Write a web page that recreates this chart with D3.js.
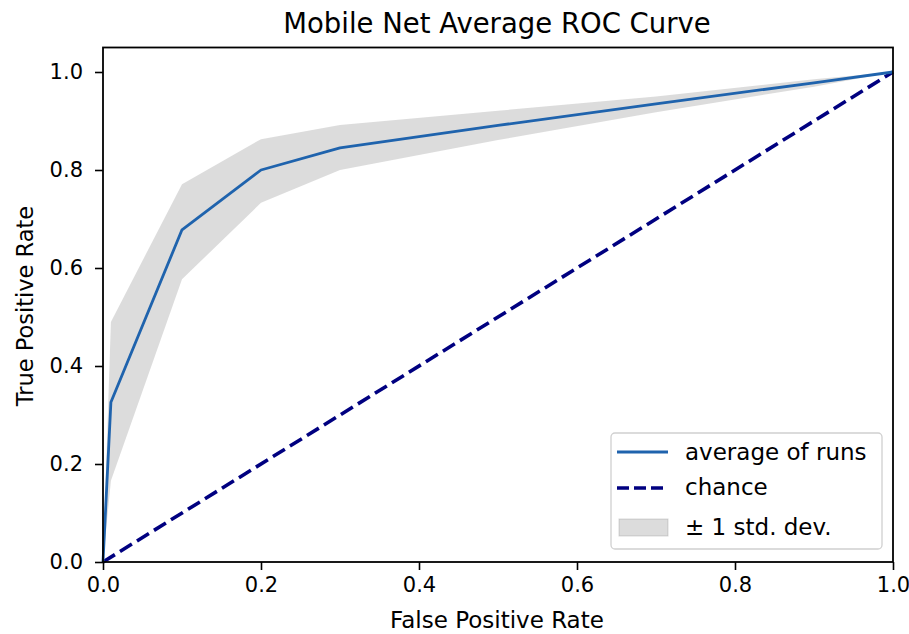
<!DOCTYPE html>
<html>
<head>
<meta charset="utf-8">
<script src="https://cdn.jsdelivr.net/npm/d3@7"></script>
<style>
  html, body { margin: 0; padding: 0; background: #fff; }
  text { font-family: "DejaVu Sans", sans-serif; fill: #000; }
</style>
</head>
<body>
<svg id="chart" width="909" height="634"></svg>
<script>
const fpr      = [0, 0.01, 0.1, 0.2, 0.3, 0.5, 0.7, 0.9, 1.0];
const meanTpr  = [0, 0.326, 0.678, 0.800, 0.845, 0.891, 0.935, 0.978, 1.0];
const upperTpr = [0, 0.490, 0.771, 0.863, 0.892, 0.921, 0.950, 0.985, 1.0];
const lowerTpr = [0, 0.166, 0.577, 0.733, 0.800, 0.861, 0.918, 0.970, 1.0];
const chanceX  = [0, 1];
const chanceY  = [0, 1];
const xTicks = [0, 0.2, 0.4, 0.6, 0.8, 1.0];
const yTicks = [0, 0.2, 0.4, 0.6, 0.8, 1.0];
const title = "Mobile Net Average ROC Curve";
const xLabel = "False Positive Rate";
const yLabel = "True Positive Rate";
const legendLabels = ["average of runs", "chance", "± 1 std. dev."];

const svg = d3.select("#chart");
const L = 103, R = 893, T = 47.5, B = 562;
const x = d3.scaleLinear().domain([0, 1]).range([L, R]);
const y = d3.scaleLinear().domain([0, 1.05]).range([B, B - 1.05 * 490]);

const pts = fpr.map((f, i) => ({f, m: meanTpr[i], u: upperTpr[i], l: lowerTpr[i]}));

// band
svg.append("path")
  .datum(pts)
  .attr("d", d3.area().x(d => x(d.f)).y0(d => y(d.l)).y1(d => y(d.u)))
  .attr("fill", "grey").attr("fill-opacity", 0.28);

// chance line
svg.append("path")
  .datum(chanceX.map((v, i) => [v, chanceY[i]]))
  .attr("d", d3.line().x(d => x(d[0])).y(d => y(d[1])))
  .attr("fill", "none").attr("stroke", "#000080").attr("stroke-width", 3.6)
  .attr("stroke-dasharray", "14,6");

// mean line
svg.append("path")
  .datum(pts)
  .attr("d", d3.line().x(d => x(d.f)).y(d => y(d.m)))
  .attr("fill", "none").attr("stroke", "#1f63ad").attr("stroke-width", 2.8)
  .attr("stroke-linejoin", "round");

// axes
const xAxis = d3.axisBottom(x).tickValues(xTicks).tickFormat(d3.format(".1f")).tickSize(8).tickPadding(7);
const yAxis = d3.axisLeft(y).tickValues(yTicks).tickFormat(d3.format(".1f")).tickSize(8).tickPadding(12);
const gx = svg.append("g").attr("transform", `translate(0,${B})`).call(xAxis);
const gy = svg.append("g").attr("transform", `translate(${L},0)`).call(yAxis);
[gx, gy].forEach(g => {
  g.select(".domain").remove();
  g.selectAll(".tick line").attr("stroke", "#000").attr("stroke-width", 1.6);
  g.selectAll(".tick text").style("font-size", "21px").style("font-family", "DejaVu Sans");
});

// frame
svg.append("rect").attr("x", L).attr("y", T).attr("width", R - L).attr("height", B - T)
  .attr("fill", "none").attr("stroke", "#000").attr("stroke-width", 1.8);

// title & labels
svg.append("text").attr("x", 497).attr("y", 33).attr("text-anchor", "middle")
  .style("font-size", "27.5px").text(title);
svg.append("text").attr("x", 497).attr("y", 628).attr("text-anchor", "middle")
  .style("font-size", "23px").text(xLabel);
svg.append("text").attr("transform", `translate(33,306) rotate(-90)`).attr("text-anchor", "middle")
  .style("font-size", "22.5px").text(yLabel);

// legend
const lg = svg.append("g");
lg.append("rect").attr("x", 611).attr("y", 433).attr("width", 271).attr("height", 116)
  .attr("rx", 4).attr("fill", "#fff").attr("fill-opacity", 0.8).attr("stroke", "#d0d0d0").attr("stroke-width", 1.3);
const rowY = [452, 488, 528];
const textY = [460, 495, 535];
lg.append("line").attr("x1", 617).attr("x2", 668).attr("y1", rowY[0]).attr("y2", rowY[0])
  .attr("stroke", "#1f63ad").attr("stroke-width", 2.8);
lg.append("line").attr("x1", 617).attr("x2", 668).attr("y1", rowY[1]).attr("y2", rowY[1])
  .attr("stroke", "#000080").attr("stroke-width", 3.6).attr("stroke-dasharray", "12,5");
lg.append("rect").attr("x", 619).attr("y", 519).attr("width", 49).attr("height", 17)
  .attr("fill", "grey").attr("fill-opacity", 0.28).attr("stroke", "grey").attr("stroke-opacity", 0.3);
legendLabels.forEach((t, i) => {
  lg.append("text").attr("x", 685).attr("y", textY[i]).style("font-size", "23px").text(t);
});
</script>
</body>
</html>
